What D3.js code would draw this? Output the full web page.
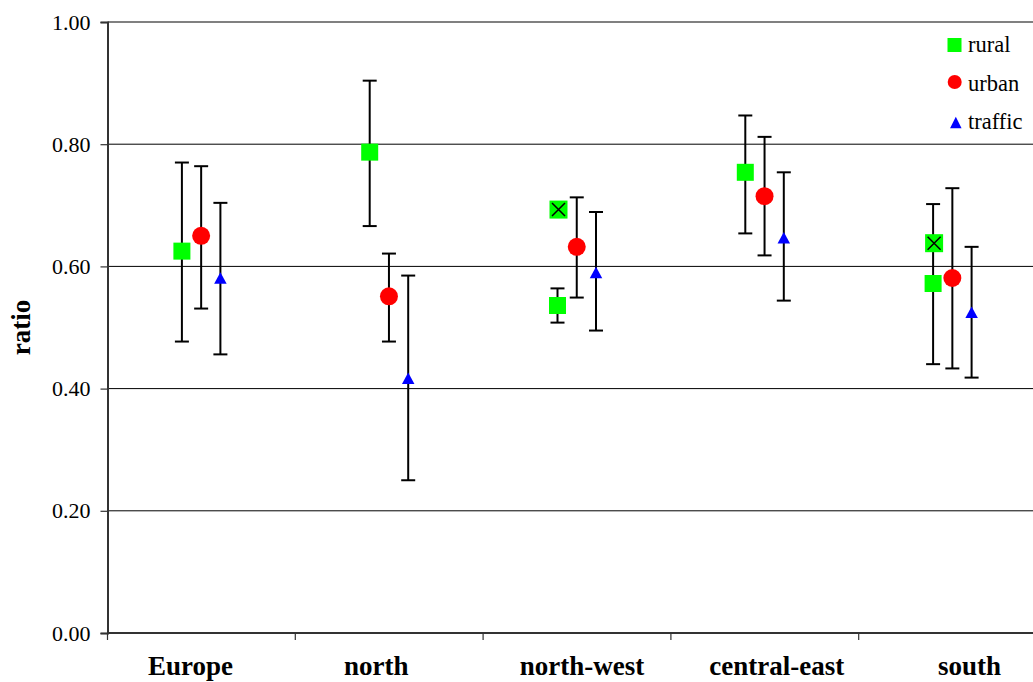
<!DOCTYPE html>
<html>
<head>
<meta charset="utf-8">
<script src="https://cdn.jsdelivr.net/npm/d3@7"></script>
<style>
  html, body { margin: 0; padding: 0; background: #fff; }
  svg { display: block; font-family: "Liberation Serif", "Times New Roman", serif; }
  svg text { font-family: "Liberation Serif", "Times New Roman", serif; }
</style>
</head>
<body>
<svg id="chart" width="1033" height="682"></svg>
<script>
// ---- data ----
const categories  = ["Europe", "north", "north-west", "central-east", "south"];
const seriesNames = ["rural", "urban", "traffic"];

const rural       = [0.625, 0.787, 0.536, 0.754, 0.572];
const ruralLow    = [0.477, 0.666, 0.508, 0.654, 0.440];
const ruralHigh   = [0.770, 0.904, 0.564, 0.847, 0.702];

const urban       = [0.650, 0.551, 0.632, 0.715, 0.581];
const urbanLow    = [0.531, 0.477, 0.549, 0.618, 0.433];
const urbanHigh   = [0.764, 0.621, 0.713, 0.812, 0.728];

const traffic     = [0.581, 0.417, 0.590, 0.647, 0.525];
const trafficLow  = [0.456, 0.250, 0.495, 0.544, 0.418];
const trafficHigh = [0.704, 0.585, 0.689, 0.754, 0.632];

// extra rural points drawn as crossed squares (no error bars)
const ruralCrossed = [null, null, 0.693, null, 0.638];

const yTicks = [0, 0.2, 0.4, 0.6, 0.8, 1.0];

(function () {
// ---- layout ----
const FONT = "Liberation Serif, Times New Roman, serif";
const svg = d3.select("#chart");
const pLeft = 107.5, pTop = 22, pBottom = 633;
const bandW = 187.8;
const pRight = pLeft + bandW * categories.length;

const x = d3.scaleBand().domain(categories).range([pLeft, pRight]).padding(0);
const y = d3.scaleLinear().domain([0, 1]).range([pBottom, pTop]);
const off = d3.scalePoint().domain(seriesNames).range([-19.5, 19]);
const labelDx = [-11, -13, 5, 12, 17];

const colors = { rural: "#00ff00", urban: "#ff0000", traffic: "#0000ff" };

// gridlines
svg.append("g").selectAll("line")
  .data(yTicks.filter(t => t > 0 && t < 1))
  .join("line")
  .attr("x1", pLeft).attr("x2", pRight)
  .attr("y1", d => y(d)).attr("y2", d => y(d))
  .attr("stroke", "#000").attr("stroke-width", 1);

// top border
svg.append("line")
  .attr("x1", pLeft).attr("x2", pRight)
  .attr("y1", y(1)).attr("y2", y(1))
  .attr("stroke", "#808080").attr("stroke-width", 2);

// y axis
const yAxis = d3.axisLeft(y).tickValues(yTicks).tickFormat(d3.format(".2f")).tickSize(7).tickPadding(10);
const gy = svg.append("g").attr("transform", `translate(${pLeft},0)`).call(yAxis);
gy.select(".domain").attr("stroke", "#333").attr("stroke-width", 2);
gy.selectAll(".tick line").attr("stroke", "#333").attr("stroke-width", 1.2);
gy.selectAll(".tick text").attr("font-size", 22).attr("fill", "#000")
  .attr("font-family", FONT);

// x axis line and ticks at band boundaries
svg.append("line")
  .attr("x1", pLeft).attr("x2", pRight).attr("y1", pBottom).attr("y2", pBottom)
  .attr("stroke", "#333").attr("stroke-width", 2);
svg.append("g").selectAll("line")
  .data(categories)
  .join("line")
  .attr("x1", d => x(d)).attr("x2", d => x(d))
  .attr("y1", pBottom).attr("y2", pBottom + 7)
  .attr("stroke", "#333").attr("stroke-width", 1.2);

// category labels
svg.append("g").selectAll("text")
  .data(categories)
  .join("text")
  .attr("x", (d, i) => x(d) + x.bandwidth() / 2 + labelDx[i])
  .attr("y", 675)
  .attr("text-anchor", "middle")
  .attr("font-family", FONT)
  .attr("font-size", 27).attr("font-weight", "bold")
  .text(d => d);

// y title
svg.append("text")
  .attr("transform", `translate(30, ${(pTop + pBottom) / 2}) rotate(-90)`)
  .attr("text-anchor", "middle")
  .attr("font-family", FONT)
  .attr("font-size", 27).attr("font-weight", "bold")
  .text("ratio");

// ---- series ----
const seriesData = [
  { name: "rural",   v: rural,   lo: ruralLow,   hi: ruralHigh },
  { name: "urban",   v: urban,   lo: urbanLow,   hi: urbanHigh },
  { name: "traffic", v: traffic, lo: trafficLow, hi: trafficHigh }
];

const cx = (cat, s) => x(cat) + x.bandwidth() / 2 + off(s);

// error bars
const eg = svg.append("g");
seriesData.forEach(s => {
  categories.forEach((c, i) => {
    const xc = cx(c, s.name);
    eg.append("line").attr("x1", xc).attr("x2", xc)
      .attr("y1", y(s.hi[i])).attr("y2", y(s.lo[i]))
      .attr("stroke", "#000").attr("stroke-width", 2);
    [s.hi[i], s.lo[i]].forEach(vv => {
      eg.append("line").attr("x1", xc - 7).attr("x2", xc + 7)
        .attr("y1", y(vv)).attr("y2", y(vv))
        .attr("stroke", "#000").attr("stroke-width", 2);
    });
  });
});

// markers
const mg = svg.append("g");
const sq = 17;
mg.selectAll("rect.rural")
  .data(categories.map((c, i) => ({ c, v: rural[i] })))
  .join("rect").attr("class", "rural")
  .attr("x", d => cx(d.c, "rural") - sq / 2).attr("y", d => y(d.v) - sq / 2)
  .attr("width", sq).attr("height", sq).attr("fill", colors.rural);

const crossed = categories.map((c, i) => ({ c, v: ruralCrossed[i] })).filter(d => d.v != null);
const cg = mg.selectAll("g.crossed").data(crossed).join("g").attr("class", "crossed")
  .attr("transform", d => `translate(${cx(d.c, "rural") + 1},${y(d.v)})`);
cg.append("rect").attr("x", -sq / 2 - 0.5).attr("y", -sq / 2 - 0.5)
  .attr("width", sq + 1).attr("height", sq + 1).attr("fill", colors.rural);
cg.append("path").attr("d", "M-6.5,-6.5L6.5,6.5M6.5,-6.5L-6.5,6.5")
  .attr("stroke", "#000").attr("stroke-width", 1.5).attr("fill", "none");

mg.selectAll("circle.urban")
  .data(categories.map((c, i) => ({ c, v: urban[i] })))
  .join("circle").attr("class", "urban")
  .attr("cx", d => cx(d.c, "urban")).attr("cy", d => y(d.v))
  .attr("r", 9).attr("fill", colors.urban);

const tri = (w, h) => `M0,${-h / 2}L${w / 2},${h / 2}L${-w / 2},${h / 2}Z`;
mg.selectAll("path.traffic")
  .data(categories.map((c, i) => ({ c, v: traffic[i] })))
  .join("path").attr("class", "traffic")
  .attr("transform", d => `translate(${cx(d.c, "traffic")},${y(d.v)})`)
  .attr("d", tri(12.5, 11.5)).attr("fill", colors.traffic);

// ---- legend ----
const lg = svg.append("g");
const legendRows = [
  { name: "rural", cy: 45, base: 52 },
  { name: "urban", cy: 82, base: 91 },
  { name: "traffic", cy: 122.5, base: 129 }
];
legendRows.forEach(r => {
  if (r.name === "rural") {
    lg.append("rect").attr("x", 947.5).attr("y", r.cy - 7).attr("width", 14).attr("height", 14).attr("fill", colors.rural);
  } else if (r.name === "urban") {
    lg.append("circle").attr("cx", 954.7).attr("cy", r.cy).attr("r", 7).attr("fill", colors.urban);
  } else {
    lg.append("path").attr("transform", `translate(955.8,${r.cy})`).attr("d", tri(11.5, 11.5)).attr("fill", colors.traffic);
  }
  lg.append("text").attr("x", 968).attr("y", r.base)
    .attr("font-family", FONT).attr("font-size", 22.5).text(r.name);
});
})();
</script>
</body>
</html>
